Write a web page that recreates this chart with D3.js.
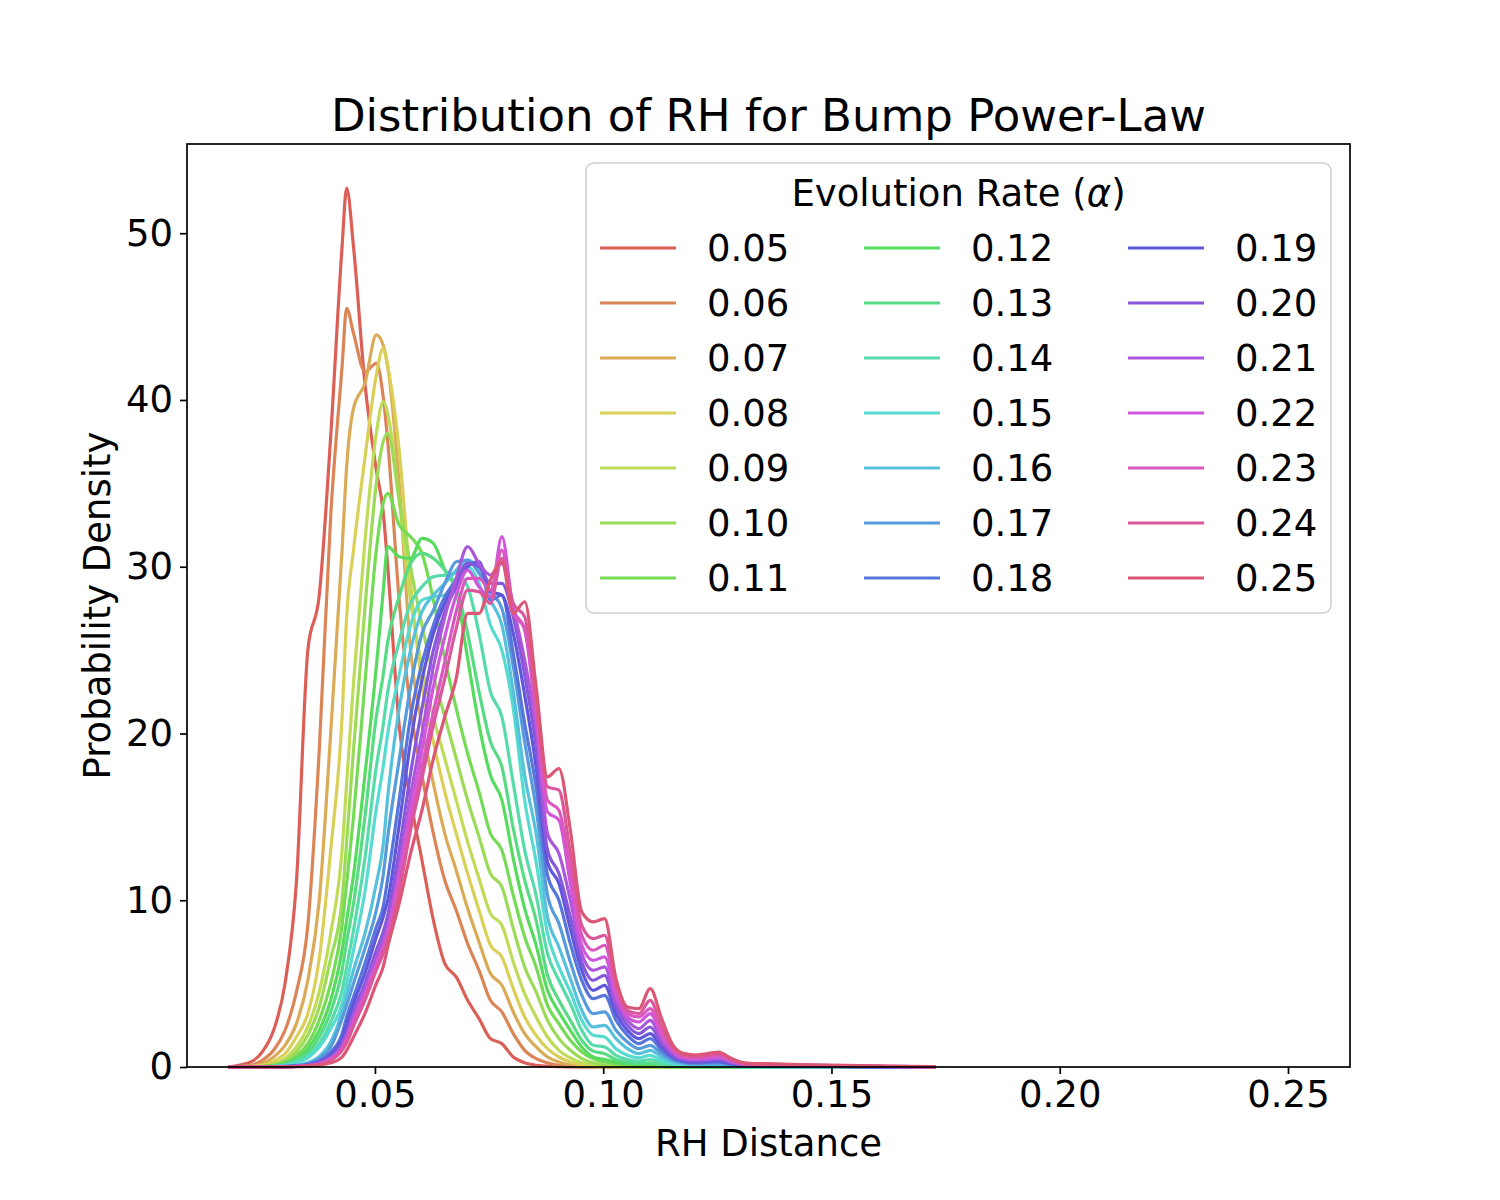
<!DOCTYPE html>
<html lang="en">
<head>
    <meta charset="utf-8">
    <script type="text/javascript" src="https://d3js.org/d3.v7.min.js"></script>
</head>
<style>
    body { margin: 0; background: #ffffff; }
    text { font-family: "DejaVu Sans", sans-serif; fill: #000; }
</style>
<body>
<div id="chart"></div>
<script type="text/javascript">
  // KDE evaluation grid (RH distance), shared by every curve
  const xGrid = [0.0178, 0.0228, 0.0253, 0.0278, 0.0303, 0.0328, 0.0353, 0.0378, 0.0403, 0.0428,
    0.0438, 0.0453, 0.0478, 0.0503, 0.0518, 0.0528, 0.0553, 0.0578, 0.0603, 0.0628,
    0.0653, 0.0678, 0.0703, 0.0728, 0.0753, 0.0778, 0.0803, 0.0828, 0.0853, 0.0878,
    0.0903, 0.0928, 0.0953, 0.0978, 0.1003, 0.1028, 0.1053, 0.1078, 0.1103, 0.1128,
    0.1153, 0.1178, 0.1203, 0.1228, 0.1253, 0.1278, 0.1303, 0.1328, 0.1378, 0.1428,
    0.1528, 0.1628, 0.1728];

  const alphas = ["0.05", "0.06", "0.07", "0.08", "0.09", "0.10", "0.11",
    "0.12", "0.13", "0.14", "0.15", "0.16", "0.17", "0.18",
    "0.19", "0.20", "0.21", "0.22", "0.23", "0.24", "0.25"];

  // probability density of each evolution rate, one value per grid point
  const kde005 = [0, 0.3, 0.9, 2.2, 5.0, 11.1, 25, 28.3, 37.8, 49.2,
    52.7, 49.2, 41, 35.8, 33.3, 30, 20.5, 16, 12.4, 8.8,
    6.2, 5.4, 4.0, 2.9, 1.7, 1.4, 0.6, 0.25, 0.1, 0.05,
    0.02, 0, 0, 0, 0, 0, 0, 0, 0, 0,
    0, 0, 0, 0, 0, 0, 0, 0, 0, 0,
    0, 0, 0];
  const kde006 = [0, 0.1, 0.4, 1.0, 2.2, 4.5, 8.5, 19, 33, 42,
    45.5, 44, 41.7, 42.2, 40.2, 37.5, 28, 21.5, 17.5, 14,
    11.2, 9.4, 7.4, 5.8, 4.0, 3.3, 2.0, 1.0, 0.5, 0.25,
    0.1, 0.04, 0, 0, 0, 0, 0, 0, 0, 0,
    0, 0, 0, 0, 0, 0, 0, 0, 0, 0,
    0, 0, 0];
  const kde007 = [0, 0.05, 0.2, 0.6, 1.3, 2.6, 5.2, 10, 20, 31,
    36, 39.5, 41, 43.9, 43.3, 42, 35, 25, 20.5, 17,
    14, 11.8, 9.5, 7.5, 5.6, 4.9, 3.3, 2.0, 1.2, 0.6,
    0.3, 0.12, 0.05, 0, 0, 0, 0, 0, 0, 0,
    0, 0, 0, 0, 0, 0, 0, 0, 0, 0,
    0, 0, 0];
  const kde008 = [0, 0.03, 0.1, 0.35, 0.8, 1.8, 3.2, 6.5, 13, 21,
    27, 31, 36.5, 41.5, 43.1, 42, 37, 29, 23, 19.5,
    16.5, 14, 11.6, 9.4, 7.3, 6.6, 4.7, 3.0, 1.9, 1.1,
    0.6, 0.3, 0.12, 0.05, 0.02, 0, 0, 0, 0, 0,
    0, 0, 0, 0, 0, 0, 0, 0, 0, 0,
    0, 0, 0];
  const kde009 = [0, 0.02, 0.06, 0.2, 0.5, 1.2, 2.4, 4.5, 8, 13,
    17, 23, 31.5, 38, 39.9, 39.2, 34, 28, 24, 21,
    18.5, 16, 13.5, 11.3, 9.2, 8.5, 6.3, 4.4, 3.0, 1.8,
    1.0, 0.55, 0.25, 0.12, 0.06, 0.03, 0, 0, 0, 0,
    0, 0, 0, 0, 0, 0, 0, 0, 0, 0,
    0, 0, 0];
  const kde010 = [0, 0.01, 0.04, 0.13, 0.35, 0.9, 1.9, 3.6, 6.5, 10,
    13.5, 19, 27.5, 35, 37.5, 38, 34, 30, 26.5, 23.5,
    21, 18.5, 16, 13.8, 11.6, 10.8, 8.3, 6, 4.5, 2.8,
    1.7, 1.0, 0.5, 0.25, 0.12, 0.06, 0.03, 0.01, 0, 0,
    0, 0, 0, 0, 0, 0, 0, 0, 0, 0,
    0, 0, 0];
  const kde011 = [0, 0.01, 0.03, 0.1, 0.25, 0.65, 1.4, 2.8, 5, 8.5,
    11, 15, 23, 31, 33.8, 34.4, 32.5, 31.8, 30.8, 28,
    24.5, 21.5, 18.8, 16.5, 14, 13, 10.3, 7.8, 6.0, 3.7,
    2.6, 1.6, 0.9, 0.5, 0.3, 0.2, 0.1, 0.05, 0.04, 0.02,
    0, 0, 0, 0, 0, 0, 0, 0, 0, 0,
    0, 0, 0];
  const kde012 = [0, 0, 0.02, 0.07, 0.2, 0.5, 1.1, 2.2, 4, 7,
    8.8, 11.5, 17.5, 24, 28.5, 31.2, 30.6, 30.5, 31.7, 31.4,
    29.8, 28.5, 24.5, 20.5, 17.5, 16, 12.5, 9.5, 7.3, 4.6,
    3.3, 2.2, 1.2, 0.6, 0.45, 0.3, 0.18, 0.12, 0.15, 0.08,
    0.04, 0.02, 0, 0, 0, 0, 0, 0, 0, 0,
    0, 0, 0];
  const kde013 = [0, 0, 0.01, 0.05, 0.15, 0.4, 0.85, 1.8, 3.3, 5.8,
    7.5, 9.8, 15, 21, 23.5, 25.5, 28.2, 30.2, 30.8, 30.5,
    29.8, 28.8, 26, 22.5, 19.5, 18, 14.3, 11.2, 8.8, 5.5,
    4.0, 2.8, 1.6, 0.95, 0.8, 0.45, 0.3, 0.2, 0.25, 0.12,
    0.06, 0.03, 0.02, 0.01, 0, 0, 0, 0, 0, 0,
    0, 0, 0];
  const kde014 = [0, 0, 0.01, 0.04, 0.12, 0.3, 0.65, 1.4, 2.7, 4.6,
    6, 8.2, 12.5, 18, 20.5, 22.5, 25.5, 27.8, 28.8, 29.4,
    29.5, 29.6, 28.8, 26, 22.5, 21, 17, 13, 10.3, 6.8,
    5.2, 3.8, 2.2, 1.3, 1.2, 0.7, 0.45, 0.35, 0.45, 0.25,
    0.12, 0.06, 0.04, 0.04, 0.03, 0.02, 0.01, 0, 0, 0,
    0, 0, 0];
  const kde015 = [0, 0, 0, 0.03, 0.1, 0.25, 0.55, 1.2, 2.3, 3.8,
    5, 7, 10.5, 15.5, 18, 20, 23.5, 26.5, 28, 28.2,
    28.3, 29.3, 30, 29, 26.5, 25, 21.5, 16, 12.3, 8,
    6.0, 4.5, 2.8, 1.9, 1.8, 1.1, 0.7, 0.55, 0.7, 0.4,
    0.2, 0.1, 0.07, 0.07, 0.06, 0.04, 0.02, 0.01, 0.01, 0,
    0, 0, 0];
  const kde016 = [0, 0, 0.01, 0.02, 0.05, 0.11, 0.26, 0.64, 1.5, 3.3,
    4.3, 5.8, 8, 11, 13.3, 16.2, 21.5, 25, 27.3, 28.3,
    29, 29.8, 30.4, 29.8, 28, 26.5, 22.5, 17.5, 14, 9,
    7.2, 5.3, 3.4, 2.4, 2.5, 1.7, 1.1, 0.8, 1.0, 0.6,
    0.3, 0.18, 0.13, 0.13, 0.12, 0.08, 0.05, 0.03, 0.02, 0.01,
    0.01, 0, 0];
  const kde017 = [0, 0, 0, 0.01, 0.04, 0.09, 0.2, 0.51, 1.19, 2.9,
    3.7, 5.0, 7.1, 9.4, 11.5, 13.8, 18.4, 22.8, 26, 27.4,
    29, 30.3, 30.4, 29.6, 28.5, 27.5, 24, 19.5, 15.5, 10.3,
    8.6, 6.3, 4.3, 3.2, 3.3, 2.2, 1.5, 1.1, 1.3, 0.8,
    0.4, 0.25, 0.2, 0.2, 0.2, 0.12, 0.07, 0.05, 0.04, 0.03,
    0.02, 0.01, 0];
  const kde018 = [0, 0, 0, 0.01, 0.03, 0.064, 0.15, 0.375, 0.88, 2.0,
    3.0, 4.2, 6.2, 8.4, 9.6, 11.3, 16, 21, 24.2, 26.5,
    28.2, 29.2, 30.2, 30.2, 28, 28.3, 24.8, 20.6, 16.8, 11.5,
    10, 7.4, 5.2, 4.1, 4.3, 2.8, 1.9, 1.4, 1.7, 1.0,
    0.5, 0.3, 0.25, 0.27, 0.3, 0.18, 0.1, 0.07, 0.05, 0.04,
    0.02, 0.01, 0];
  const kde019 = [0, 0, 0, 0.01, 0.025, 0.055, 0.13, 0.32, 0.75, 1.75,
    2.6, 3.8, 5.6, 7.8, 9, 10, 14.5, 19.5, 23.2, 26,
    27.8, 29, 30, 30.3, 28.5, 28.3, 26, 22.3, 18, 12.3,
    11, 8.3, 5.8, 4.6, 4.9, 3.2, 2.2, 1.7, 2.0, 1.2,
    0.6, 0.35, 0.3, 0.33, 0.37, 0.22, 0.12, 0.08, 0.06, 0.05,
    0.03, 0.01, 0];
  const kde020 = [0, 0, 0, 0.005, 0.02, 0.044, 0.1, 0.26, 0.6, 1.4,
    2.1, 3.3, 5.0, 7.0, 8.1, 9.1, 13, 17.6, 21.5, 25,
    27.3, 28.8, 30.2, 30, 29, 29, 27, 23.5, 19.2, 13,
    11.6, 9, 6.3, 5.2, 5.5, 3.6, 2.5, 2.0, 2.4, 1.4,
    0.7, 0.42, 0.36, 0.4, 0.45, 0.27, 0.14, 0.1, 0.08, 0.06,
    0.04, 0.02, 0.01];
  const kde021 = [0, 0, 0, 0.005, 0.018, 0.04, 0.09, 0.24, 0.55, 1.3,
    1.9, 3.1, 4.7, 6.6, 7.6, 8.5, 12, 16.3, 20, 24,
    27, 29.3, 31.2, 30.2, 29.5, 30.2, 27.5, 24.4, 20.3, 14,
    12.8, 10, 6.8, 5.8, 6.0, 3.9, 2.8, 2.3, 2.8, 1.6,
    0.8, 0.48, 0.42, 0.47, 0.52, 0.32, 0.16, 0.12, 0.1, 0.07,
    0.05, 0.02, 0.01];
  const kde022 = [0, 0, 0, 0.004, 0.015, 0.035, 0.08, 0.2, 0.48, 1.15,
    1.7, 2.8, 4.4, 6.2, 7.2, 8.1, 11.5, 15.5, 19, 22.8,
    25.8, 28.3, 29.8, 28.8, 28.2, 31.8, 27.5, 26.2, 21, 15.3,
    14.8, 11, 7.3, 6.4, 6.6, 4.3, 3.0, 2.7, 3.2, 1.9,
    0.95, 0.55, 0.5, 0.55, 0.6, 0.38, 0.18, 0.13, 0.11, 0.08,
    0.05, 0.03, 0.01];
  const kde023 = [0, 0, 0, 0.004, 0.013, 0.03, 0.07, 0.18, 0.43, 1.05,
    1.55, 2.6, 4.2, 6.0, 7.0, 7.8, 11, 14.8, 18, 21.3,
    24.3, 27.3, 29.3, 29.3, 28.6, 31, 27.2, 26.3, 21.5, 16,
    15.4, 11.8, 7.9, 7.0, 7.3, 4.7, 3.2, 3.0, 3.5, 2.1,
    1.05, 0.62, 0.57, 0.63, 0.7, 0.44, 0.2, 0.15, 0.13, 0.1,
    0.06, 0.03, 0.01];
  const kde024 = [0, 0, 0, 0.003, 0.012, 0.03, 0.065, 0.16, 0.4, 1.0,
    1.45, 2.45, 4.0, 5.8, 6.8, 7.6, 10.5, 14.2, 17.3, 20.5,
    23.3, 26.3, 28.6, 28.5, 27.8, 30.5, 27.8, 27, 22, 16.8,
    16.6, 12.8, 8.5, 7.7, 7.9, 5.0, 3.4, 3.2, 4.0, 2.4,
    1.15, 0.7, 0.63, 0.7, 0.8, 0.5, 0.23, 0.17, 0.15, 0.12,
    0.07, 0.04, 0.01];
  const kde025 = [0, 0, 0, 0.005, 0.01, 0.02, 0.05, 0.12, 0.25, 0.6,
    1.0, 1.8, 3.2, 5.0, 6.0, 7.2, 9.8, 12.8, 15.4, 18.5,
    21, 23.3, 27.2, 27.2, 29.2, 30.3, 27.2, 27.9, 22.8, 17.4,
    17.9, 14.2, 9.3, 8.7, 8.9, 5.3, 3.6, 3.5, 4.7, 2.9,
    1.3, 0.8, 0.72, 0.8, 0.9, 0.55, 0.28, 0.21, 0.19, 0.15,
    0.1, 0.06, 0.02];

  const densities = [kde005, kde006, kde007, kde008, kde009, kde010, kde011,
    kde012, kde013, kde014, kde015, kde016, kde017, kde018,
    kde019, kde020, kde021, kde022, kde023, kde024, kde025];

  const xTicks = [0.05, 0.10, 0.15, 0.20, 0.25];
  const yTicks = [0, 10, 20, 30, 40, 50];

  const svgWidth = 1500, svgHeight = 1200;
  const margin = {top: 144, right: 150, bottom: 133, left: 187};
  const width = svgWidth - margin.left - margin.right;
  const height = svgHeight - margin.top - margin.bottom;

  const svg = d3.select("#chart")
    .append("svg")
    .attr("width", svgWidth)
    .attr("height", svgHeight);

  const g = svg.append("g")
    .attr("transform", "translate(" + margin.left + "," + margin.top + ")");

  const x = d3.scaleLinear().domain([0.00883, 0.26358]).range([0, width]);
  const y = d3.scaleLinear().domain([0, 55.35]).range([height, 0]);

  // seaborn hls palette: evenly spaced hues, l=.6, s=.65
  const color = i => d3.hsl(((i / alphas.length + 0.01) % 1) * 360, 0.65, 0.6).formatHex();

  const line = d3.line()
    .x(d => x(d[0]))
    .y(d => y(d[1]))
    .curve(d3.curveMonotoneX);

  densities.forEach((vals, i) => {
    g.append("path")
      .datum(xGrid.map((v, j) => [v, vals[j]]))
      .attr("fill", "none")
      .attr("stroke", color(i))
      .attr("stroke-width", 3.2)
      .attr("stroke-linejoin", "round")
      .attr("d", line);
  });

  // axes
  const xAxis = g.append("g")
    .attr("transform", "translate(0," + height + ")")
    .call(d3.axisBottom(x).tickValues(xTicks).tickFormat(d3.format(".2f"))
      .tickSize(7).tickPadding(7).tickSizeOuter(0));
  const yAxis = g.append("g")
    .call(d3.axisLeft(y).tickValues(yTicks).tickFormat(d3.format("d"))
      .tickSize(7).tickPadding(7).tickSizeOuter(0));

  [xAxis, yAxis].forEach(ax => {
    ax.selectAll("text").style("font-size", "37px").style("font-family", "DejaVu Sans").attr("fill", "#000");
    ax.selectAll("line").attr("stroke", "#000").attr("stroke-width", 1.7);
    ax.select(".domain").remove();
  });

  // frame
  g.append("rect")
    .attr("width", width)
    .attr("height", height)
    .attr("fill", "none")
    .attr("stroke", "#000")
    .attr("stroke-width", 1.7);

  svg.append("text")
    .attr("x", margin.left + width / 2)
    .attr("y", 131)
    .attr("text-anchor", "middle")
    .style("font-size", "45px")
    .text("Distribution of RH for Bump Power-Law");

  svg.append("text")
    .attr("x", margin.left + width / 2)
    .attr("y", 1143)
    .attr("dy", "0.35em")
    .attr("text-anchor", "middle")
    .style("font-size", "37px")
    .text("RH Distance");

  svg.append("text")
    .attr("transform", "translate(97," + (margin.top + height / 2) + ") rotate(-90)")
    .attr("dy", "0.35em")
    .attr("text-anchor", "middle")
    .style("font-size", "37px")
    .text("Probability Density");

  // legend, three columns of seven
  const legW = 745, legH = 450;
  const legend = svg.append("g")
    .attr("transform", "translate(" + (margin.left + width - 19 - legW) + "," + (margin.top + 19) + ")");

  legend.append("rect")
    .attr("width", legW)
    .attr("height", legH)
    .attr("rx", 8)
    .attr("fill", "#fff")
    .attr("fill-opacity", 0.8)
    .attr("stroke", "#d0d0d0")
    .attr("stroke-width", 1.5);

  const legTitle = legend.append("text")
    .attr("x", legW / 2)
    .attr("y", 43)
    .attr("text-anchor", "middle")
    .style("font-size", "37px");
  legTitle.append("tspan").text("Evolution Rate (");
  legTitle.append("tspan").style("font-style", "italic").text("α");
  legTitle.append("tspan").text(")");

  const items = legend.selectAll("g.item")
    .data(alphas)
    .enter().append("g")
    .attr("class", "item")
    .attr("transform", (d, i) => "translate(" + (14 + Math.floor(i / 7) * 264) + "," + (85 + (i % 7) * 55) + ")");

  items.append("line")
    .attr("x1", 0).attr("x2", 76)
    .attr("stroke", (d, i) => color(i))
    .attr("stroke-width", 3.2);

  items.append("text")
    .attr("x", 107)
    .attr("dy", "0.35em")
    .style("font-size", "37px")
    .text(d => d);
</script>
</body>
</html>
